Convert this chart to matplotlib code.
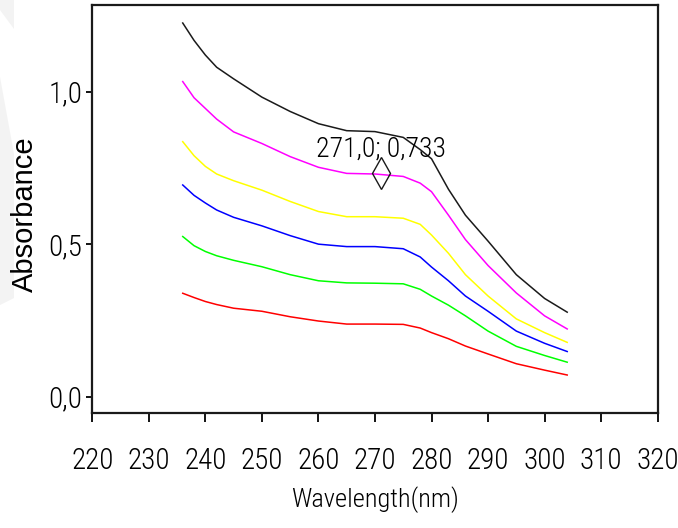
import numpy as np
import matplotlib
matplotlib.use('Agg')
import matplotlib.pyplot as plt
from matplotlib.ticker import FuncFormatter, MultipleLocator
from matplotlib.patches import Polygon

# comprimentos de onda lidos (nm)
wl = [236, 238, 240, 242, 245, 250, 255, 260, 265, 270, 275, 278, 280, 283, 286, 290, 295, 300, 304]

# absorbancia de cada espectro
abs_preto = [1.225, 1.168, 1.12, 1.08, 1.042, 0.982, 0.935, 0.895, 0.872, 0.869, 0.85, 0.81, 0.78, 0.68, 0.595, 0.51, 0.40, 0.322, 0.277]
abs_magenta = [1.033, 0.98, 0.945, 0.91, 0.868, 0.83, 0.787, 0.752, 0.732, 0.73, 0.722, 0.70, 0.672, 0.595, 0.515, 0.43, 0.34, 0.265, 0.222]
abs_amarelo = [0.836, 0.79, 0.755, 0.73, 0.708, 0.677, 0.64, 0.607, 0.59, 0.59, 0.585, 0.565, 0.53, 0.47, 0.40, 0.33, 0.255, 0.21, 0.178]
abs_azul = [0.694, 0.66, 0.635, 0.612, 0.588, 0.56, 0.528, 0.50, 0.492, 0.492, 0.485, 0.458, 0.425, 0.38, 0.33, 0.28, 0.215, 0.175, 0.148]
abs_verde = [0.525, 0.495, 0.476, 0.462, 0.447, 0.426, 0.40, 0.38, 0.373, 0.372, 0.37, 0.352, 0.33, 0.30, 0.265, 0.215, 0.165, 0.135, 0.113]
abs_vermelho = [0.339, 0.325, 0.312, 0.302, 0.29, 0.28, 0.262, 0.248, 0.238, 0.238, 0.237, 0.225, 0.21, 0.19, 0.166, 0.14, 0.108, 0.087, 0.071]

series = [abs_preto, abs_magenta, abs_amarelo, abs_azul, abs_verde, abs_vermelho]
cores = ['#1a1a1a', '#ff00ff', '#ffff00', '#0000ff', '#00ff00', '#ff0000']

# ponto marcado no grafico
pico_x = 271.0
pico_y = 0.733

fonte_estreita = ['Roboto Condensed', 'DejaVu Sans']
peso = 300
fonte = ['Liberation Sans', 'DejaVu Sans']

fig = plt.figure(figsize=(6.78, 5.28), dpi=100, facecolor='w')

# marca d'agua cinza na borda esquerda
W, H = 678.0, 528.0
for pts in ([(0, 0), (14, 0), (14, 29), (0, 10)],
            [(0, 77), (14, 154), (14, 298), (0, 305)]):
    fig.patches.append(Polygon([(x / W, 1 - y / H) for x, y in pts], closed=True,
                               transform=fig.transFigure, facecolor='#f3f3f3',
                               edgecolor='none', zorder=0))

ax = fig.add_axes([0.1361, 0.2184, 0.970 - 0.1361, 0.9905 - 0.2184])

for ys, c in zip(series, cores):
    ax.plot(wl, ys, color=c, linewidth=1.1)

ax.plot([pico_x], [pico_y], marker='d', markersize=16, fillstyle='none',
        color='#1a1a1a', markeredgewidth=1.0, linestyle='none')
ax.text(259.6, 0.787, "{0:.1f}; {1:.3f}".format(pico_x, pico_y).replace('.', ','),
        family=fonte_estreita, weight=peso, fontsize=20, va='baseline', ha='left')

ax.set_xlim(220, 320)
ax.set_ylim(-0.0525, 1.284)
ax.xaxis.set_major_locator(MultipleLocator(10))
ax.set_yticks([0.0, 0.5, 1.0])
ax.yaxis.set_major_formatter(FuncFormatter(lambda v, p: "{0:.1f}".format(v).replace('.', ',')))

ax.tick_params(axis='x', direction='out', length=6.5, width=1.3, pad=18)
ax.tick_params(axis='y', direction='out', length=4.3, width=1.3, pad=3)
for lbl in ax.get_xticklabels() + ax.get_yticklabels():
    lbl.set_family(fonte_estreita)
    lbl.set_weight(peso)
    lbl.set_fontsize(21)

for s in ax.spines.values():
    s.set_linewidth(1.6)
    s.set_color('#1a1a1a')

fig.text(375 / W, 1 - 500 / H, "Wavelength(nm)", family=fonte_estreita, weight=peso,
         fontsize=19, ha='center', va='center')
fig.text(25 / W, 1 - 214 / H, "Absorbance", family=fonte, fontsize=21,
         rotation=90, ha='center', va='center')

plt.savefig("out.png", dpi=100, facecolor='w')
